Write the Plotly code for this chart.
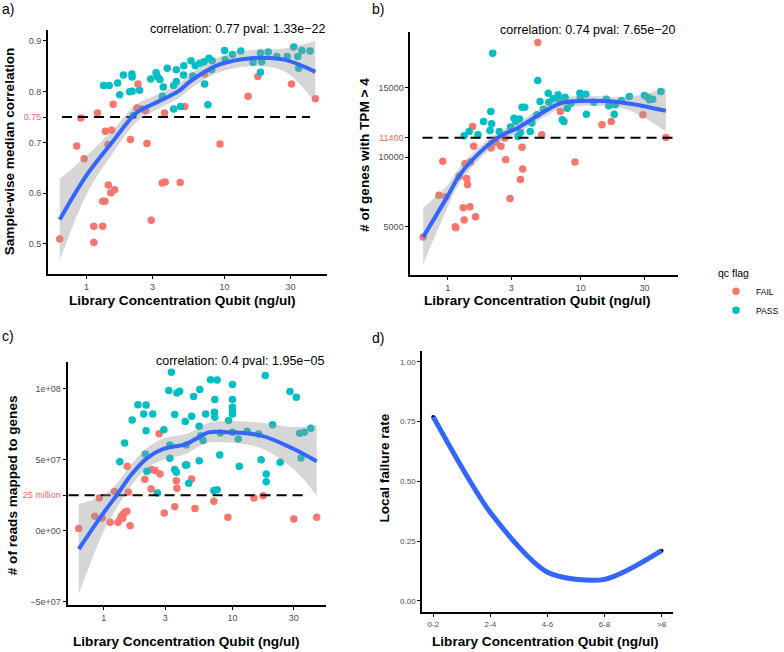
import plotly.graph_objects as go

# ---- panel a: sample-wise median correlation ----
a_fail_x = [0.64, 0.85, 0.96, 0.91, 1.13, 1.13, 1.31, 1.20, 1.31, 1.36,
            1.37, 1.43, 1.44, 1.50, 1.52, 1.56, 1.60, 2.08, 2.36, 2.32,
            2.49, 2.68, 2.74, 2.94, 3.53, 3.71, 3.67, 4.77, 5.15, 7.17,
            9.27, 14.8, 17.4, 30.5, 45.4]
a_fail_y = [0.510, 0.693, 0.668, 0.748, 0.535, 0.503, 0.535, 0.758, 0.584, 0.584,
            0.722, 0.696, 0.616, 0.601, 0.724, 0.775, 0.607, 0.706, 0.815, 0.768,
            0.766, 0.763, 0.698, 0.547, 0.620, 0.622, 0.758, 0.621, 0.771, 0.835,
            0.697, 0.791, 0.830, 0.815, 0.786]
a_pass_x = [1.33, 1.46, 1.68, 1.74, 1.85, 2.05, 2.13, 2.14, 2.14, 2.42,
            2.18, 2.92, 3.19, 3.28, 3.40, 3.60, 3.54, 3.84, 4.28, 4.28,
            4.80, 4.47, 4.47, 5.04, 5.06, 5.71, 6.13, 5.87, 6.61, 7.17,
            7.57, 7.10, 7.70, 8.13, 8.05, 10.0, 10.1, 11.4, 13.1, 16.1,
            18.2, 18.6, 18.2, 20.7, 23.9, 28.4, 31.7, 33.9, 34.4, 36.3,
            41.6]
a_pass_y = [0.812, 0.812, 0.817, 0.794, 0.833, 0.800, 0.835, 0.829, 0.801, 0.803,
            0.753, 0.825, 0.837, 0.829, 0.824, 0.809, 0.791, 0.846, 0.812, 0.766,
            0.771, 0.820, 0.843, 0.833, 0.851, 0.861, 0.851, 0.831, 0.856, 0.815,
            0.774, 0.859, 0.866, 0.861, 0.843, 0.881, 0.863, 0.873, 0.880, 0.858,
            0.876, 0.859, 0.838, 0.878, 0.869, 0.869, 0.888, 0.869, 0.846, 0.881,
            0.880]
a_fit_x = [0.64, 1.01, 1.56, 2.29, 3.0, 4.64, 5.62, 9.1, 15.6, 27.0, 45.4]
a_fit_y = [0.548, 0.637, 0.703, 0.758, 0.775, 0.801, 0.820, 0.853, 0.866, 0.863, 0.839]
a_fit_hi = [0.628, 0.675, 0.725, 0.775, 0.790, 0.815, 0.835, 0.868, 0.882, 0.885, 0.900]
a_fit_lo = [0.468, 0.600, 0.680, 0.740, 0.760, 0.787, 0.805, 0.838, 0.850, 0.840, 0.778]
a_cut = 0.75
a_cut_span = [0.665, 41.6]

# ---- panel b: genes with TPM > 4 ----
b_fail_x = [0.655, 0.86, 0.92, 0.97, 1.14, 1.15, 1.22, 1.31, 1.33, 1.35,
            1.39, 1.41, 1.47, 1.48, 1.54, 1.57, 1.62, 2.12, 2.15, 2.31,
            2.51, 2.69, 2.73, 2.94, 3.52, 3.66, 3.62, 4.75, 5.08, 7.01,
            9.03, 14.4, 16.9, 29.2, 43.4]
b_fail_y = [4258, 7266, 9701, 7147, 4998, 4927, 8627, 6359, 5476, 9534,
            8460, 8030, 6431, 9653, 12207, 10775, 5714, 10656, 11014, 11061,
            10775, 11372, 9820, 7027, 8388, 9152, 10703, 18246, 11611, 13281,
            9653, 12327, 12565, 13043, 11420]
b_pass_x = [1.33, 1.45, 1.69, 1.86, 2.11, 2.14, 2.18, 2.08, 2.44, 2.97,
            3.15, 3.24, 3.46, 3.62, 3.79, 3.52, 3.38, 4.17, 4.29, 4.75,
            4.67, 4.94, 5.69, 5.75, 6.19, 6.74, 6.93, 7.25, 7.46, 7.62,
            7.89, 8.44, 9.83, 9.88, 10.9, 11.0, 12.5, 15.5, 16.2, 17.8,
            18.1, 20.2, 23.1, 30.0, 31.8, 32.7, 34.6, 39.8, 5.23]
b_pass_y = [11539, 11849, 11610, 12565, 13281, 12398, 17459, 11921, 11849, 12160,
            12804, 12565, 12733, 13592, 13592, 11778, 11491, 11849, 12446, 15501,
            13043, 13997, 14594, 13950, 14188, 14475, 14117, 12685, 12565, 14308,
            13520, 13878, 14594, 14236, 14523, 13090, 13950, 14164, 13687, 13090,
            13759, 14069, 14355, 14427, 14284, 14117, 14164, 14714, 13448]
b_fit_x = [0.655, 1.0, 1.24, 1.84, 2.58, 3.24, 5.08, 7.13, 12.5, 22.0, 43.4]
b_fit_y = [4258, 7200, 8750, 10540, 11610, 12020, 13160, 13880, 14050, 13880, 13330]
b_fit_hi = [6360, 8000, 9300, 10950, 11950, 12400, 13550, 14250, 14400, 14300, 14950]
b_fit_lo = [2300, 6400, 8200, 10100, 11250, 11650, 12780, 13500, 13700, 13450, 11850]
b_cut = 11400
b_cut_span = [0.648, 50.0]

# ---- panel c: reads mapped to genes (millions) ----
c_fail_x = [0.638, 0.85, 0.92, 0.97, 1.12, 1.21, 1.29, 1.34, 1.37, 1.42,
            1.46, 1.51, 1.40, 1.52, 1.55, 1.60, 2.08, 2.33, 2.36, 2.50,
            2.69, 2.73, 2.95, 3.56, 3.66, 3.70, 4.82, 5.11, 7.17, 9.21,
            14.7, 17.3, 30.0, 45.2]
c_fail_y = [1.6, 10.1, 23.0, 8.9, 5.9, 27.5, 5.9, 8.2, 10.1, 11.7,
            12.9, 13.6, 8.7, 45.3, 27.0, 3.5, 36.2, 29.3, 43.0, 42.3,
            68.3, 39.9, 12.4, 16.9, 35.2, 29.8, 36.4, 15.7, 20.7, 9.4,
            23.0, 24.6, 8.2, 9.4]
c_pass_x = [1.33, 1.45, 1.66, 1.84, 2.04, 2.13, 2.13, 2.10, 2.16, 2.40,
            2.61, 2.93, 3.20, 3.26, 3.26, 3.35, 3.56, 3.56, 3.66, 3.70,
            3.88, 4.29, 4.31, 4.41, 4.57, 4.36, 4.82, 4.99, 5.51, 5.57,
            5.51, 5.67, 5.91, 6.19, 6.76, 7.25, 7.29, 7.29, 7.60, 7.96,
            7.17, 7.60, 8.05, 9.33, 10.0, 10.0, 10.0, 10.0, 10.0, 10.0,
            11.3, 11.1, 13.0, 16.0, 16.7, 18.0, 18.3, 18.3, 20.5, 23.5,
            28.0, 31.4, 33.3, 34.1, 36.2, 40.7]
c_pass_y = [48.6, 61.7, 77.9, 88.7, 82.2, 88.5, 70.4, 54.0, 41.8, 82.2,
            26.5, 71.1, 98.6, 60.3, 50.9, 111.5, 81.7, 43.0, 41.1, 96.9,
            98.1, 76.8, 46.2, 46.2, 33.3, 60.3, 80.5, 94.4, 73.5, 99.3,
            49.3, 66.9, 63.4, 82.2, 106.3, 83.3, 92.3, 79.8, 106.1, 53.3,
            28.2, 28.9, 68.8, 77.5, 102.8, 92.3, 86.9, 84.5, 82.2, 69.2,
            45.3, 64.6, 70.0, 68.1, 50.0, 109.2, 39.9, 34.5, 74.6, 48.1,
            97.9, 93.9, 68.5, 51.2, 69.2, 72.1]
c_fit_x = [0.638, 1.0, 1.28, 1.61, 2.16, 2.90, 4.36, 5.20, 6.56, 9.33, 16.7, 30.0, 45.2]
c_fit_y = [-12.9, 12.9, 25.8, 38.7, 50.9, 57.5, 61.0, 64.6, 69.2, 69.2, 66.9, 57.5, 48.8]
c_fit_hi = [18.8, 25.0, 34.0, 46.0, 58.0, 65.0, 68.0, 71.0, 76.0, 77.0, 76.0, 73.0, 73.9]
c_fit_lo = [-44.6, 0.0, 17.0, 31.0, 44.0, 50.0, 54.0, 58.0, 62.0, 62.0, 58.0, 43.0, 24.6]
c_cut = 25.0
c_cut_span = [0.532, 39.0]

# ---- panel d: local failure rate ----
d_bins = ["0-2", "2-4", "4-6", "6-8", ">8"]
d_rate = [0.77, 0.37, 0.12, 0.09, 0.21]

FAIL_COL = "#F8766D"
PASS_COL = "#00BFC4"
FIT_COL = "#3366FF"
BAND_COL = "rgba(153,153,153,0.4)"
FONT = "Liberation Sans, Arial, sans-serif"

W, H = 784, 652


def px(x):
    return x / W


def py(y):
    return 1 - y / H


fig = go.Figure()


def add_panel(xa, ya, fx, fy, qx, qy, fit_x, fit_y, lo, hi, cut, span, scale, legend):
    sx = lambda v: [t * scale for t in v]
    fig.add_trace(go.Scatter(x=fx, y=sx(fy), mode="markers", name="FAIL", legendgroup="FAIL",
                             showlegend=legend, marker=dict(color=FAIL_COL, size=7.5),
                             xaxis=xa, yaxis=ya))
    fig.add_trace(go.Scatter(x=qx, y=sx(qy), mode="markers", name="PASS", legendgroup="PASS",
                             showlegend=legend, marker=dict(color=PASS_COL, size=7.5),
                             xaxis=xa, yaxis=ya))
    fig.add_trace(go.Scatter(x=span, y=[cut * scale] * 2, mode="lines", showlegend=False,
                             line=dict(color="black", width=2, dash="10px,6px"),
                             xaxis=xa, yaxis=ya))
    # confidence band: lower edge, then upper edge filled down to it
    fig.add_trace(go.Scatter(x=fit_x, y=sx(lo), mode="lines", showlegend=False,
                             line=dict(width=0, shape="spline"), hoverinfo="skip",
                             xaxis=xa, yaxis=ya))
    fig.add_trace(go.Scatter(x=fit_x, y=sx(hi), mode="lines", showlegend=False,
                             fill="tonexty", fillcolor=BAND_COL,
                             line=dict(width=0, shape="spline"), hoverinfo="skip",
                             xaxis=xa, yaxis=ya))
    fig.add_trace(go.Scatter(x=fit_x, y=sx(fit_y), mode="lines", showlegend=False,
                             line=dict(color=FIT_COL, width=4, shape="spline"),
                             xaxis=xa, yaxis=ya))


add_panel("x", "y", a_fail_x, a_fail_y, a_pass_x, a_pass_y,
          a_fit_x, a_fit_y, a_fit_lo, a_fit_hi, a_cut, a_cut_span, 1, True)
add_panel("x2", "y2", b_fail_x, b_fail_y, b_pass_x, b_pass_y,
          b_fit_x, b_fit_y, b_fit_lo, b_fit_hi, b_cut, b_cut_span, 1, False)
add_panel("x3", "y3", c_fail_x, c_fail_y, c_pass_x, c_pass_y,
          c_fit_x, c_fit_y, c_fit_lo, c_fit_hi, c_cut, c_cut_span, 1e6, False)

d_pos = list(range(1, len(d_bins) + 1))
fig.add_trace(go.Scatter(x=d_pos, y=d_rate, mode="markers", showlegend=False,
                         marker=dict(color="black", size=4), xaxis="x4", yaxis="y4"))
fig.add_trace(go.Scatter(x=d_pos, y=d_rate, mode="lines", showlegend=False,
                         line=dict(color=FIT_COL, width=5, shape="spline", smoothing=0.75),
                         xaxis="x4", yaxis="y4"))

red = lambda s: '<span style="color:%s">%s</span>' % ("#EF6B5E", s)

ax = dict(showline=True, linecolor="black", linewidth=2, ticks="outside", ticklen=3,
          tickwidth=1, tickcolor="black", showgrid=False, zeroline=False,
          tickfont=dict(size=9, color="#4D4D4D", family=FONT))
logx = dict(ax, type="log", tickvals=[1, 3, 10, 30], ticktext=["1", "3", "10", "30"])

fig.update_layout(
    width=W, height=H,
    margin=dict(l=0, r=0, t=0, b=0),
    paper_bgcolor="white", plot_bgcolor="white",
    font=dict(family=FONT, color="black"),
    xaxis=dict(logx, domain=[px(49), px(334)], range=[-0.279, 1.743], anchor="y"),
    yaxis=dict(ax, domain=[py(275), py(30)], range=[0.4406, 0.9216], anchor="x",
               tickvals=[0.5, 0.6, 0.7, 0.75, 0.8, 0.9],
               ticktext=["0.5", "0.6", "0.7", red("0.75"), "0.8", "0.9"]),
    xaxis2=dict(logx, domain=[px(419), px(692)], range=[-0.279, 1.728], anchor="y2"),
    yaxis2=dict(ax, domain=[py(276), py(32)], range=[1521, 19000], anchor="x2",
                tickvals=[5000, 10000, 11400, 15000],
                ticktext=["5000", "10000", red("11400"), "15000"]),
    xaxis3=dict(logx, domain=[px(69), px(333)], range=[-0.282, 1.729], anchor="y3"),
    yaxis3=dict(ax, domain=[py(607), py(363)], range=[-5.24e7, 1.188e8], anchor="x3",
                tickvals=[-5e7, 0, 2.5e7, 5e7, 1e8],
                ticktext=["\u22125e+07", "0e+00", red("25 million"), "5e+07", "1e+08"]),
    xaxis4=dict(ax, domain=[px(431), px(687)], range=[0.806, 5.2], anchor="y4",
                tickvals=d_pos, ticktext=d_bins, tickfont=dict(size=8, color="#4D4D4D")),
    yaxis4=dict(ax, domain=[py(614), py(352)], range=[-0.047, 1.046], anchor="x4",
                tickvals=[0, 0.25, 0.5, 0.75, 1.0],
                ticktext=["0.00", "0.25", "0.50", "0.75", "1.00"],
                tickfont=dict(size=8, color="#4D4D4D")),
    legend=dict(x=px(731), y=py(264), xanchor="left", yanchor="top",
                title=dict(text="qc flag", font=dict(size=10.5)), itemwidth=30,
                font=dict(size=8.5), bgcolor="rgba(0,0,0,0)", tracegroupgap=0),
)

ann = []
# panel labels
for lab, x, y in [("a)", 0, 9), ("b)", 378, 9), ("c)", 0, 337), ("d)", 378, 339)]:
    ann.append(dict(text=lab, x=px(x), y=py(y), xanchor="left", yanchor="middle",
                    font=dict(size=14)))
# correlation labels
for t, x, y in [("correlation: 0.77 pval: 1.33e\u221222", 335, 29),
                ("correlation: 0.74 pval: 7.65e\u221220", 692, 30),
                ("correlation: 0.4 pval: 1.95e\u221205", 334, 362)]:
    ann.append(dict(text=t, x=px(x), y=py(y), xanchor="right", yanchor="middle",
                    font=dict(size=12.5)))
# x axis titles
xt = "<b>Library Concentration Qubit (ng/ul)</b>"
for x, y in [(186, 301), (549, 301), (190, 643), (557, 643)]:
    ann.append(dict(text=xt, x=px(x), y=py(y), xanchor="center", yanchor="middle",
                    font=dict(size=13.6)))
# y axis titles
for t, x, y in [("Sample-wise median correlation", 10, 152),
                ("# of genes with TPM > 4", 372, 155),
                ("# of reads mapped to genes", 13, 487),
                ("Local failure rate", 393, 469)]:
    ann.append(dict(text="<b>%s</b>" % t, x=px(x), y=py(y), xanchor="center",
                    yanchor="middle", textangle=-90, font=dict(size=13.6)))
for a in ann:
    a.update(xref="paper", yref="paper", showarrow=False)
fig.update_layout(annotations=ann)

# drop the default page margin so the figure sits at the window's corner
fig.write_html("out.html", config={"displayModeBar": False},
               post_script="document.body.style.margin='0';document.body.style.overflow='hidden';")
